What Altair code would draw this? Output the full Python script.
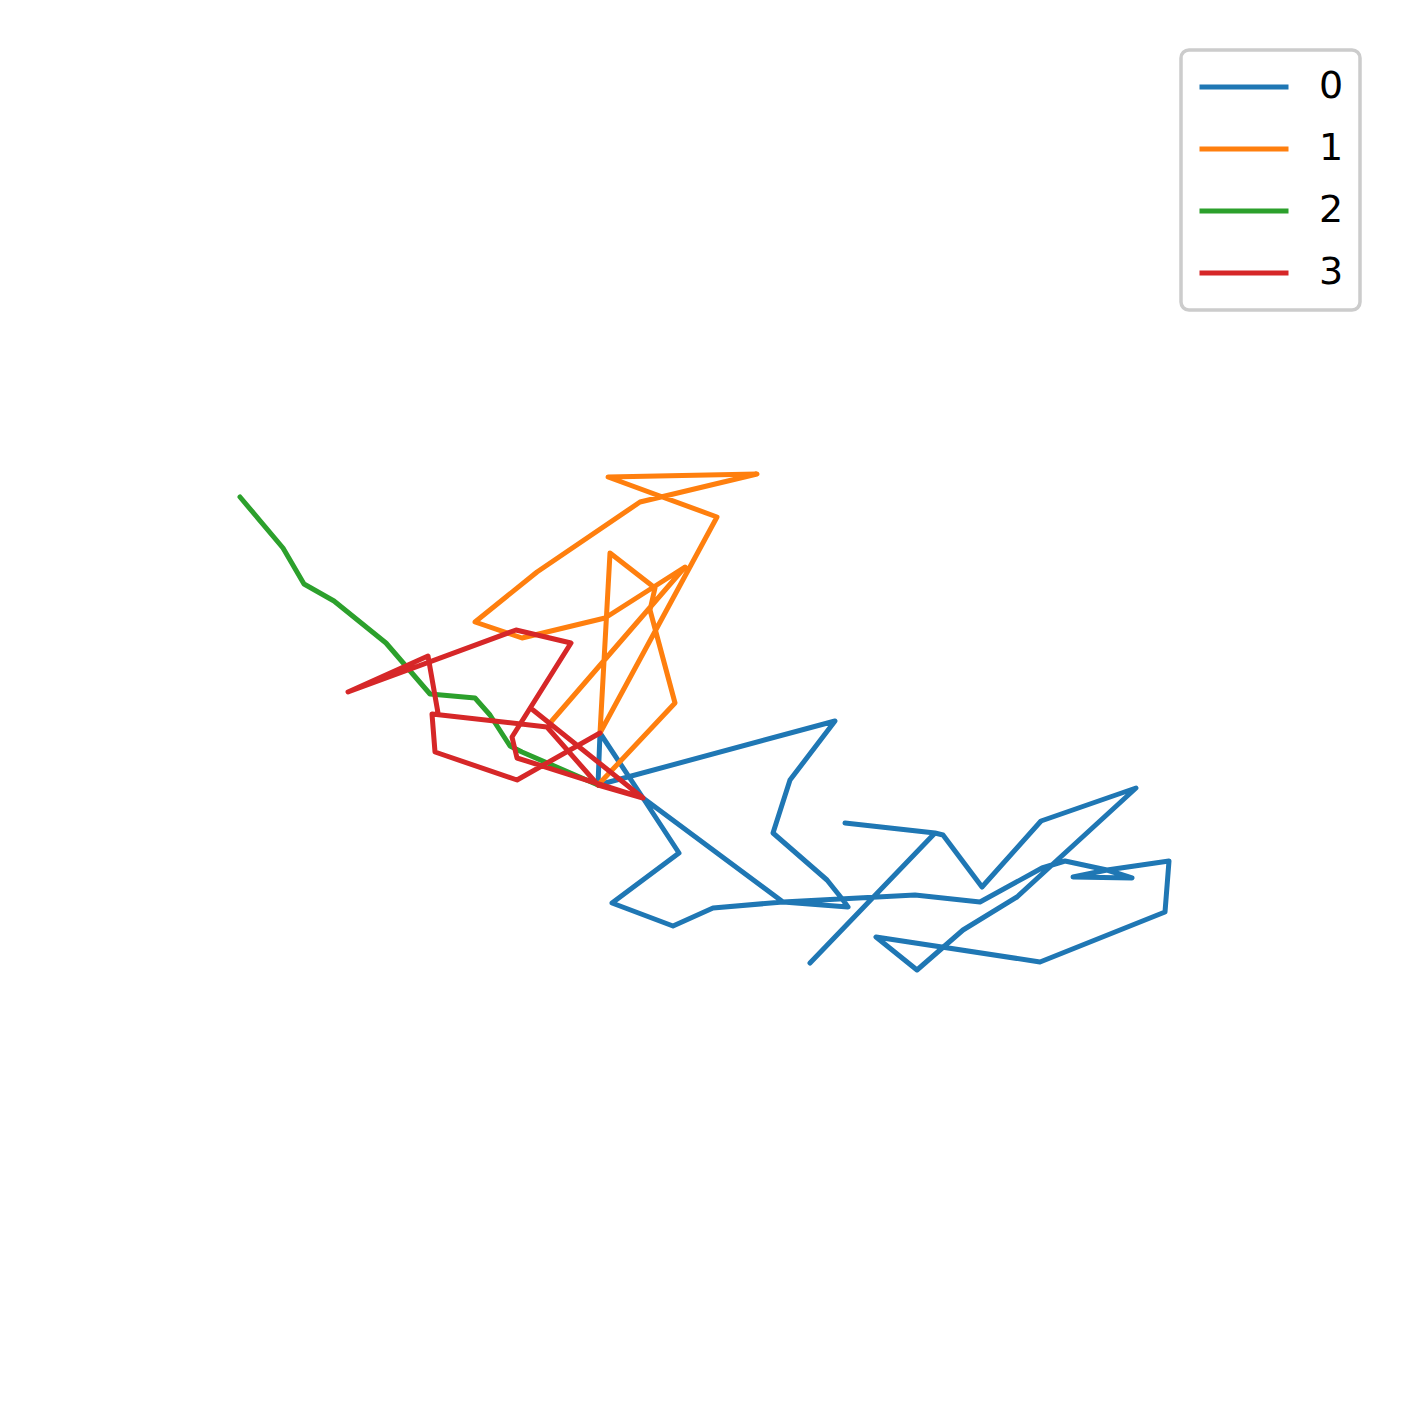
import altair as alt
import pandas as pd

# Walk coordinates (relative units, origin at the shared point)
x0 = [212, 337, 247, 337, 345, 384, 443, 538, 419, 365, 319, 278, 442, 567, 571,
      509, 534, 475, 509, 467, 444, 382, 317, 185, 115, 75, 14, 81, 45, 2, 0,
      237, 192, 175, 229, 245, 250, 185, 45]
y0 = [-178, -48, -38, -48, -50, -102, -36, -3, -112, -145, -185, -152, -177, -127, -76,
      -85, -93, -92, -85, -76, -83, -117, -110, -117, -123, -141, -118, -68, -13, 52, 0,
      64, 5, -48, -95, -115, -122, -117, -13]

x1 = [-48, 87, 7, -76, -123, -61, 42, 159, 10, 119, 2, 12, 57, 52, 77, 0]
y1 = [62, 218, 167, 147, 163, 213, 283, 311, 308, 268, 52, 232, 197, 175, 82, 0]

x2 = [-358, -315, -294, -264, -212, -168, -123, -108, -88, -76, 0]
y2 = [288, 237, 201, 184, 142, 91, 87, 70, 39, 33, 0]

x3 = [2, -81, -163, -166, -51, 0, 45, -65, 45, -81, -86, -27, -82, -250, -170, -160]
y3 = [52, 5, 33, 71, 58, 0, -13, 75, -13, 27, 48, 142, 155, 93, 129, 72]

series_names = ["0", "1", "2", "3"]
colors = ["#1f77b4", "#ff7f0e", "#2ca02c", "#d62728"]

rows = []
for name, xs, ys in zip(series_names, [x0, x1, x2, x3], [y0, y1, y2, y3]):
    for i, (xv, yv) in enumerate(zip(xs, ys)):
        rows.append({"series": name, "step": i, "x": xv, "y": yv})
df = pd.DataFrame(rows)

W, H = 1390, 1390

chart = alt.Chart(df).mark_line(
    strokeWidth=5, strokeCap="round", strokeJoin="round"
).encode(
    x=alt.X("x:Q", axis=None, scale=alt.Scale(domain=[-590, 800], nice=False, zero=False)),
    y=alt.Y("y:Q", axis=None, scale=alt.Scale(domain=[-613, 777], nice=False, zero=False)),
    color=alt.Color(
        "series:N",
        scale=alt.Scale(domain=series_names, range=colors),
        legend=alt.Legend(
            title=None,
            orient="none",
            legendX=1173,
            legendY=42,
            symbolType="stroke",
            symbolSize=7921,
            symbolStrokeWidth=5,
            labelFont="DejaVu Sans",
            labelFontSize=38,
            labelColor="black",
            labelOffset=28,
            padding=16,
            clipHeight=42,
            rowPadding=20,
            fillColor="white",
            strokeColor="#cccccc",
            cornerRadius=8,
        ),
    ),
    order=alt.Order("step:Q"),
).properties(
    width=W, height=H, padding=0, autosize=alt.AutoSizeParams(type="none")
).configure_view(strokeWidth=0).configure_legend(strokeWidth=3.5)

chart.save("out.html", embed_options={"renderer": "svg", "actions": False})
